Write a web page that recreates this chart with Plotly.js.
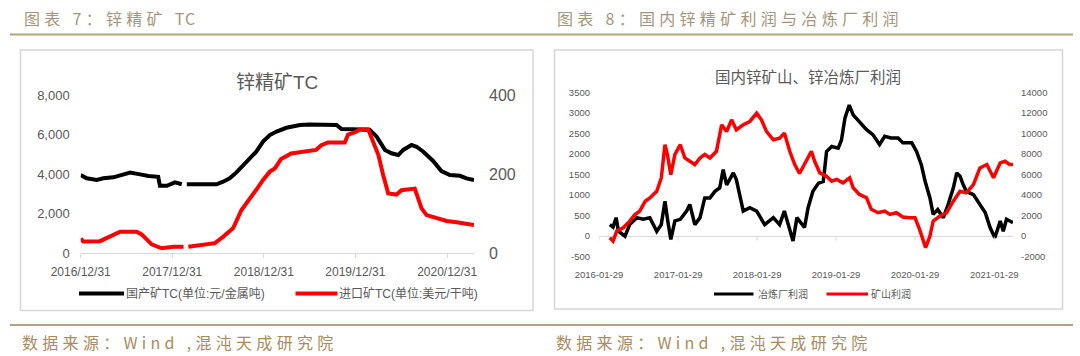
<!DOCTYPE html>
<html>
<head>
<meta charset="utf-8">
<script src="https://cdn.plot.ly/plotly-3.0.1.min.js"></script>
<style>
  html, body { margin: 0; padding: 0; background: #ffffff; }
  #wrap { position: relative; width: 1080px; height: 356px; overflow: hidden; }
  #chart { position: absolute; left: 0; top: 0; width: 1080px; height: 356px; }
  .hdr, .ftr { position: absolute; white-space: nowrap; font-family: "Noto Sans CJK SC", sans-serif; font-size: 16px; line-height: 20px; }
  .hdr { color: #a6957a; letter-spacing: 4.3px; top: 8px; }
  .ftr { color: #a88b5e; letter-spacing: 4.3px; top: 332px; }
  .tight { letter-spacing: 1px; }
</style>
</head>
<body>
<div id="wrap">
  <div id="chart"></div>
  <div class="hdr" style="left:24px;">图表 7：锌精矿 <span class="tight">TC</span></div>
  <div class="hdr" style="left:557px;">图表 8：国内锌精矿利润与冶炼厂利润</div>
  <div class="ftr" style="left:22px;">数据来源：Wind ,混沌天成研究院</div>
  <div class="ftr" style="left:556px;">数据来源：Wind ,混沌天成研究院</div>
</div>
<script>
// ---------------- Chart 7: zinc concentrate TC ----------------
const domDates = ['2016-12-31','2017-01-24','2017-03-05','2017-03-31','2017-05-10','2017-06-13','2017-07-16','2017-08-25','2017-09-27','2017-11-05','2017-11-12','2017-12-09','2018-01-11','2018-02-07','2018-02-16','2018-02-27','2018-06-25','2018-07-22','2018-08-17','2018-09-13','2018-10-10','2018-11-05','2018-12-01','2018-12-28','2019-01-11','2019-01-24','2019-02-20','2019-03-31','2019-05-24','2019-07-02','2019-10-17','2019-11-06','2019-12-22','2020-02-27','2020-03-25','2020-04-27','2020-05-23','2020-06-19','2020-07-09','2020-08-11','2020-08-31','2020-09-27','2020-11-05','2020-12-08','2021-01-11','2021-02-20','2021-03-18','2021-04-17'];
const domTC = [3950,3780,3700,3780,3830,3950,4070,3980,3900,3860,3400,3400,3580,3480,null,3480,3480,3610,3780,4080,4450,4830,5130,5640,5800,5970,6150,6340,6480,6510,6480,6280,6260,6230,5890,5220,5050,4960,5220,5470,5380,5130,4660,4150,3950,3910,3780,3700];

const impDates = ['2016-12-31','2017-01-10','2017-03-18','2017-04-27','2017-06-06','2017-08-11','2017-08-31','2017-10-10','2017-11-19','2018-01-04','2018-02-14','2018-02-20','2018-03-05','2018-04-19','2018-06-19','2018-07-22','2018-08-31','2018-10-03','2018-10-29','2018-12-01','2018-12-28','2019-01-24','2019-02-13','2019-03-10','2019-04-19','2019-07-27','2019-08-17','2019-09-13','2019-11-19','2019-12-02','2020-01-04','2020-01-18','2020-02-20','2020-03-05','2020-04-01','2020-04-20','2020-05-10','2020-06-12','2020-07-02','2020-08-24','2020-09-07','2020-09-20','2020-10-10','2020-11-19','2020-12-29','2021-02-07','2021-03-18','2021-04-17'];
const impTC = [37,29,30,41,54,54,47,22,12,16,16,null,16,19,25,41,63,109,130,160,185,206,214,238,252,261,273,280,280,300,307,313,313,290,248,197,151,148,159,163,134,113,96,89,81,78,75,71];

const leftTickVals = ['2016-12-31','2017-12-31','2018-12-31','2019-12-31','2020-12-31'];
const leftTickText = ['2016/12/31','2017/12/31','2018/12/31','2019/12/31','2020/12/31'];
const leftYTicks = [0,2000,4000,6000,8000];
const leftY2Ticks = [0,200,400];
const leftTitle = '锌精矿TC';
const leftNames = ['国产矿TC(单位:元/金属吨)','进口矿TC(单位:美元/干吨)'];

// ---------------- Chart 8: mine & smelter profit ----------------
const smelterDates = ['2016-03-19','2016-04-03','2016-04-17','2016-04-28','2016-05-28','2016-06-19','2016-07-21','2016-08-20','2016-09-20','2016-10-22','2016-11-12','2016-11-29','2016-12-12','2016-12-26','2017-01-14','2017-02-08','2017-03-09','2017-03-24','2017-04-16','2017-05-10','2017-06-01','2017-06-25','2017-07-18','2017-08-09','2017-08-25','2017-09-10','2017-10-11','2017-10-25','2017-11-26','2017-12-26','2018-01-27','2018-03-05','2018-04-14','2018-05-13','2018-06-04','2018-06-22','2018-07-14','2018-08-01','2018-08-25','2018-09-05','2018-09-22','2018-10-14','2018-11-09','2018-12-01','2018-12-16','2019-01-09','2019-02-08','2019-02-23','2019-03-11','2019-03-31','2019-04-18','2019-05-17','2019-06-19','2019-07-18','2019-08-18','2019-09-11','2019-10-10','2019-11-12','2019-12-04','2020-01-14','2020-02-05','2020-02-27','2020-03-16','2020-04-07','2020-04-22','2020-05-13','2020-06-08','2020-06-30','2020-07-24','2020-08-09','2020-08-24','2020-09-08','2020-09-22','2020-10-25','2020-11-24','2020-12-19','2021-01-10','2021-02-01','2021-02-26','2021-03-12','2021-03-27','2021-04-26'];
const smelterProfit = [280,220,450,120,0,280,450,410,450,120,280,850,370,-80,370,410,610,770,280,450,930,930,1090,1170,1620,1250,1540,1375,610,690,610,280,450,280,610,280,-120,450,300,210,700,1090,1290,1330,2060,2180,2140,2340,2870,3190,2950,2790,2590,2470,2230,2430,2390,2390,2270,2270,2060,1740,1330,930,530,650,450,770,1170,1540,1460,1250,1090,1010,770,570,210,-40,370,120,410,330];

const mineDates = ['2016-03-19','2016-04-03','2016-04-20','2016-05-20','2016-06-19','2016-07-13','2016-08-04','2016-08-30','2016-09-20','2016-10-22','2016-11-12','2016-11-29','2016-12-10','2016-12-26','2017-01-14','2017-02-08','2017-03-01','2017-03-24','2017-04-16','2017-05-10','2017-06-01','2017-06-25','2017-07-25','2017-08-18','2017-09-10','2017-10-03','2017-10-25','2017-11-26','2017-12-26','2018-01-27','2018-02-18','2018-03-13','2018-04-14','2018-05-13','2018-06-04','2018-06-29','2018-07-22','2018-08-13','2018-09-05','2018-10-07','2018-10-22','2018-11-15','2018-12-16','2019-01-09','2019-02-01','2019-03-02','2019-04-02','2019-04-18','2019-05-17','2019-06-19','2019-07-11','2019-08-11','2019-09-11','2019-10-05','2019-11-04','2019-12-04','2020-01-05','2020-01-29','2020-02-19','2020-03-18','2020-04-07','2020-04-22','2020-05-23','2020-06-23','2020-07-24','2020-08-24','2020-09-22','2020-10-25','2020-11-24','2020-12-26','2021-01-26','2021-02-26','2021-03-20','2021-04-10','2021-04-26'];
const mineProfit = [-160,-480,490,810,1460,2100,2430,3400,3720,4370,5660,8900,7950,5990,7950,8900,7610,7290,6970,7610,7950,7610,8260,10840,10190,11320,10350,10840,11160,11970,11320,10190,9380,9540,10030,8260,6970,6100,6970,8260,7290,6160,5840,5350,5520,5190,5680,4710,4060,3740,2610,2280,2440,2120,2280,1860,1790,1790,660,-1120,10,1460,1950,2280,3400,4370,4210,5020,6640,6970,5680,7130,7290,6970,6970];

const rightTickVals = ['2016-01-29','2017-01-29','2018-01-29','2019-01-29','2020-01-29','2021-01-29'];
const rightTickText = ['2016-01-29','2017-01-29','2018-01-29','2019-01-29','2020-01-29','2021-01-29'];
const rightYTicks = [-500,0,500,1000,1500,2000,2500,3000,3500];
const rightY2Ticks = [-2000,0,2000,4000,6000,8000,10000,12000,14000];
const rightTitle = '国内锌矿山、锌冶炼厂利润';
const rightNames = ['冶炼厂利润','矿山利润'];

// ---------------- layout helpers (pixel -> paper) ----------------
const W = 1080, H = 356;
const px = v => v / W;
const py = v => 1 - v / H;
const FONT = 'Liberation Sans, Arial, Noto Sans CJK SC, sans-serif';
const GREY = '#595959';
const plain = arr => arr.map(v => String(v));

const traces = [
  {x: domDates, y: domTC, name: leftNames[0], xaxis: 'x', yaxis: 'y', mode: 'lines', connectgaps: false,
   line: {color: '#000000', width: 4}, showlegend: false, hoverinfo: 'skip'},
  {x: impDates, y: impTC, name: leftNames[1], xaxis: 'x', yaxis: 'y2', mode: 'lines', connectgaps: false,
   line: {color: '#ff0000', width: 4}, showlegend: false, hoverinfo: 'skip'},
  {x: smelterDates, y: smelterProfit, name: rightNames[0], xaxis: 'x2', yaxis: 'y3', mode: 'lines',
   line: {color: '#000000', width: 3.5}, showlegend: false, hoverinfo: 'skip'},
  {x: mineDates, y: mineProfit, name: rightNames[1], xaxis: 'x2', yaxis: 'y4', mode: 'lines',
   line: {color: '#ff0000', width: 3.5}, showlegend: false, hoverinfo: 'skip'}
];

const shapes = [
  {type: 'line', xref: 'paper', yref: 'paper', x0: px(10), x1: px(1073), y0: py(34.5), y1: py(34.5), line: {color: '#b7a27f', width: 2}},
  {type: 'line', xref: 'paper', yref: 'paper', x0: px(10), x1: px(1073), y0: py(325), y1: py(325), line: {color: '#b7a27f', width: 2}},
  {type: 'rect', xref: 'paper', yref: 'paper', x0: px(20.5), x1: px(533), y0: py(310.5), y1: py(50), line: {color: '#d6d6d6', width: 1.5}, layer: 'below'},
  {type: 'rect', xref: 'paper', yref: 'paper', x0: px(554.5), x1: px(1062.5), y0: py(309), y1: py(50), line: {color: '#d6d6d6', width: 1.5}, layer: 'below'},
  {type: 'line', xref: 'paper', yref: 'paper', x0: px(79), x1: px(124), y0: py(293.5), y1: py(293.5), line: {color: '#000000', width: 4}},
  {type: 'line', xref: 'paper', yref: 'paper', x0: px(295.5), x1: px(337.5), y0: py(293.5), y1: py(293.5), line: {color: '#ff0000', width: 4}},
  {type: 'line', xref: 'paper', yref: 'paper', x0: px(714), x1: px(753.5), y0: py(294), y1: py(294), line: {color: '#000000', width: 3}},
  {type: 'line', xref: 'paper', yref: 'paper', x0: px(826.5), x1: px(868), y0: py(294), y1: py(294), line: {color: '#ff0000', width: 3}}
];
rightTickVals.forEach(d => shapes.push({type: 'line', xref: 'x2', yref: 'paper', x0: d, x1: d,
  y0: py(236.7), y1: py(240.5), line: {color: '#d9d9d9', width: 1}}));

const annotations = [
  {text: leftTitle, xref: 'paper', yref: 'paper', x: px(277), y: py(82), xanchor: 'center', yanchor: 'middle', showarrow: false,
   font: {family: FONT, size: 19, color: GREY}},
  {text: rightTitle, xref: 'paper', yref: 'paper', x: px(808), y: py(77.5), xanchor: 'center', yanchor: 'middle', showarrow: false,
   font: {family: FONT, size: 15.5, color: GREY}},
  {text: leftNames[0], xref: 'paper', yref: 'paper', x: px(124), y: py(293.5), xanchor: 'left', yanchor: 'middle', showarrow: false,
   font: {family: FONT, size: 12, color: GREY}},
  {text: leftNames[1], xref: 'paper', yref: 'paper', x: px(337), y: py(293.5), xanchor: 'left', yanchor: 'middle', showarrow: false,
   font: {family: FONT, size: 12, color: GREY}},
  {text: rightNames[0], xref: 'paper', yref: 'paper', x: px(756), y: py(294), xanchor: 'left', yanchor: 'middle', showarrow: false,
   font: {family: FONT, size: 10, color: GREY}},
  {text: rightNames[1], xref: 'paper', yref: 'paper', x: px(869), y: py(294), xanchor: 'left', yanchor: 'middle', showarrow: false,
   font: {family: FONT, size: 10, color: GREY}}
];

const layout = {
  width: W, height: H,
  margin: {l: 0, r: 0, t: 0, b: 0, pad: 0},
  paper_bgcolor: '#ffffff', plot_bgcolor: 'rgba(0,0,0,0)',
  font: {family: FONT, color: GREY},
  showlegend: false,
  xaxis: {
    domain: [px(80.7), px(474)], anchor: 'y', type: 'date',
    range: ['2016-12-31', '2021-04-17'],
    tickmode: 'array', tickvals: leftTickVals, ticktext: leftTickText,
    showline: true, linecolor: '#d9d9d9', linewidth: 1,
    ticks: 'outside', ticklen: 4, tickcolor: '#d9d9d9',
    tickfont: {size: 12, color: GREY}, ticklabelstandoff: 4, showgrid: false, zeroline: false, fixedrange: true
  },
  yaxis: {
    domain: [py(253), py(95)], anchor: 'x', range: [0, 8000],
    tickmode: 'array', tickvals: leftYTicks, tickformat: ',',
    showline: false, ticks: '', showgrid: false, zeroline: false,
    tickfont: {size: 13, color: GREY}, ticklabelstandoff: 10, fixedrange: true
  },
  yaxis2: {
    overlaying: 'y', side: 'right', anchor: 'x', range: [0, 400],
    tickmode: 'array', tickvals: leftY2Ticks,
    showline: false, ticks: '', showgrid: false, zeroline: false,
    tickfont: {size: 16, color: GREY}, ticklabelstandoff: 14, fixedrange: true
  },
  xaxis2: {
    domain: [px(599), px(1013)], anchor: 'y3', type: 'date',
    range: ['2016-01-29', '2021-04-26'],
    tickmode: 'array', tickvals: rightTickVals, ticktext: rightTickText,
    showline: false, ticks: '', showgrid: false, zeroline: false,
    tickfont: {size: 9.5, color: GREY}, ticklabelstandoff: 11, fixedrange: true
  },
  yaxis3: {
    domain: [py(256.7), py(92.3)], anchor: 'x2', range: [-500, 3500],
    tickmode: 'array', tickvals: rightYTicks, ticktext: plain(rightYTicks),
    showline: false, ticks: '', showgrid: false,
    zeroline: true, zerolinecolor: '#d9d9d9', zerolinewidth: 1,
    tickfont: {size: 9.5, color: GREY}, ticklabelstandoff: 8, fixedrange: true
  },
  yaxis4: {
    overlaying: 'y3', side: 'right', anchor: 'x2', range: [-2000, 14000],
    tickmode: 'array', tickvals: rightY2Ticks, ticktext: plain(rightY2Ticks),
    showline: false, ticks: '', showgrid: false, zeroline: false,
    tickfont: {size: 9.5, color: GREY}, ticklabelstandoff: 7, fixedrange: true
  },
  shapes: shapes,
  annotations: annotations
};

Plotly.newPlot('chart', traces, layout, {staticPlot: true, displayModeBar: false});
</script>
</body>
</html>
